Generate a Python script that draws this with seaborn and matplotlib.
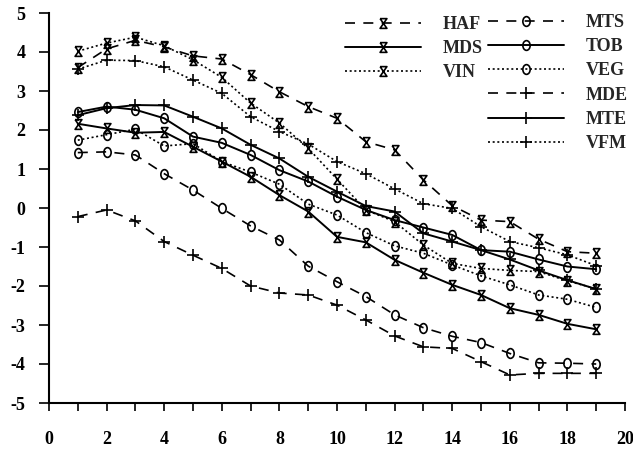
import numpy as np
import pandas as pd
import matplotlib
matplotlib.use("Agg")
import matplotlib.pyplot as plt
from matplotlib.path import Path
from matplotlib.lines import Line2D
import seaborn as sns

# x positions shared by every series
steps = list(range(1, 20))

HAF = [3.60, 4.08, 4.30, 4.13, 3.90, 3.82, 3.42, 2.98, 2.60, 2.30, 1.70, 1.49, 0.72, 0.06, -0.31, -0.35, -0.80, -1.12, -1.16]
MDS = [2.16, 2.04, 1.93, 1.95, 1.57, 1.19, 0.80, 0.33, -0.09, -0.74, -0.88, -1.33, -1.66, -1.97, -2.23, -2.57, -2.74, -2.97, -3.11]
VIN = [4.02, 4.23, 4.38, 4.16, 3.80, 3.35, 2.69, 2.18, 1.53, 0.74, -0.05, -0.35, -0.95, -1.42, -1.55, -1.60, -1.63, -1.87, -2.07]
MTS = [1.42, 1.44, 1.36, 0.88, 0.46, -0.01, -0.46, -0.82, -1.49, -1.89, -2.27, -2.74, -3.07, -3.29, -3.45, -3.73, -3.97, -3.98, -4.00]
TOB = [2.46, 2.60, 2.52, 2.30, 1.83, 1.67, 1.36, 0.97, 0.68, 0.29, -0.05, -0.31, -0.50, -0.69, -1.08, -1.12, -1.32, -1.50, -1.57]
VEG = [1.74, 1.88, 2.02, 1.59, 1.65, 1.19, 0.92, 0.61, 0.10, -0.18, -0.63, -0.97, -1.16, -1.46, -1.74, -1.97, -2.23, -2.34, -2.55]
MDE = [-0.22, -0.05, -0.33, -0.86, -1.21, -1.55, -2.00, -2.18, -2.23, -2.49, -2.87, -3.28, -3.56, -3.60, -3.94, -4.28, -4.24, -4.24, -4.24]
MTE = [2.38, 2.56, 2.64, 2.63, 2.34, 2.04, 1.62, 1.27, 0.80, 0.42, 0.05, -0.09, -0.65, -0.86, -1.08, -1.32, -1.60, -1.85, -2.08]
VFM = [3.56, 3.79, 3.78, 3.62, 3.28, 2.94, 2.34, 1.96, 1.64, 1.19, 0.88, 0.49, 0.11, -0.01, -0.48, -0.86, -1.02, -1.20, -1.48]

series_names = ["HAF", "MDS", "VIN", "MTS", "TOB", "VEG", "MDE", "MTE", "VFM"]
series_vals = [HAF, MDS, VIN, MTS, TOB, VEG, MDE, MTE, VFM]

x_ticks = list(range(0, 21))
x_labels = [str(v) if v % 2 == 0 else "" for v in x_ticks]
y_ticks = list(range(-5, 6))
y_labels = [str(v) for v in y_ticks]

# marker shapes: hourglass, small upright oval, plus
hourglass = Path([(-0.7, 1), (0.7, 1), (-0.7, -1), (0.7, -1), (-0.7, 1)],
                 [Path.MOVETO, Path.LINETO, Path.LINETO, Path.LINETO, Path.LINETO])
circ = Path.unit_circle()
oval = Path(circ.vertices * np.array([0.75, 1.0]), circ.codes)

dashed = (0, (6, 5))
dotted = (0, (1.2, 1.6))
solid = "-"

styles = {
    "HAF": (hourglass, dashed, 7), "MDS": (hourglass, solid, 7), "VIN": (hourglass, dotted, 7),
    "MTS": (oval, dashed, 7), "TOB": (oval, solid, 7), "VEG": (oval, dotted, 7),
    "MDE": ("+", dashed, 8), "MTE": ("+", solid, 8), "VFM": ("+", dotted, 8),
}

df = pd.DataFrame({
    "step": steps * len(series_names),
    "value": sum(series_vals, []),
    "series": sum([[n] * len(steps) for n in series_names], []),
})

sns.set_theme(style="ticks")
plt.rcParams["font.family"] = ["Liberation Serif", "DejaVu Serif"]
plt.rcParams["font.weight"] = "bold"
plt.rcParams["axes.unicode_minus"] = False

fig = plt.figure(figsize=(6.33, 4.49), dpi=100)
ax = fig.add_axes([49 / 633, 1 - 403 / 449, (625 - 49) / 633, (403 - 13) / 449])

handles = {}
for name in series_names:
    mk, ls, ms = styles[name]
    sub = df[df["series"] == name]
    lw = 1.4 if ls == solid else 1.2
    sns.lineplot(data=sub, x="step", y="value", ax=ax, color="black",
                 linestyle=ls, linewidth=lw, marker=mk, markersize=ms,
                 markeredgewidth=1.2, markerfacecolor="none",
                 markeredgecolor="black", legend=False)
    handles[name] = Line2D([], [], color="black", linestyle=ls, linewidth=lw,
                           marker=mk, markersize=ms, markeredgewidth=1.2,
                           markerfacecolor="none", markeredgecolor="black")

ax.set_xlim(0, 20)
ax.set_ylim(-5, 5)
ax.set_xlabel("")
ax.set_ylabel("")
ax.set_xticks(x_ticks)
ax.set_xticklabels(x_labels, fontsize=13, fontweight="bold")
ax.set_yticks(y_ticks)
ax.set_yticklabels(y_labels, fontsize=13, fontweight="bold")
ax.tick_params(axis="x", direction="out", length=6, width=1.2, pad=14, bottom=True, colors="black")
ax.tick_params(axis="y", direction="out", length=7, width=1.2, pad=10, left=True, colors="black")
for side in ["top", "right"]:
    ax.spines[side].set_visible(False)
for side in ["left", "bottom"]:
    ax.spines[side].set_color("black")
    ax.spines[side].set_linewidth(1.5)
ax.grid(False)

leg_kw = dict(frameon=False, handlelength=4.2, handletextpad=1.2, labelspacing=0.40,
              borderpad=0, borderaxespad=0, loc="upper left", numpoints=1,
              prop={"family": "Liberation Serif", "weight": "bold", "size": 13},
              bbox_transform=fig.transFigure)
first = ["HAF", "MDS", "VIN"]
second = ["MTS", "TOB", "VEG", "MDE", "MTE", "VFM"]
leg1 = ax.legend([handles[n] for n in first], first, bbox_to_anchor=(345 / 633, 1 - 16 / 449), **leg_kw)
ax.add_artist(leg1)
ax.legend([handles[n] for n in second], second, bbox_to_anchor=(488 / 633, 1 - 14 / 449), **leg_kw)

fig.savefig("out.png", dpi=100)
